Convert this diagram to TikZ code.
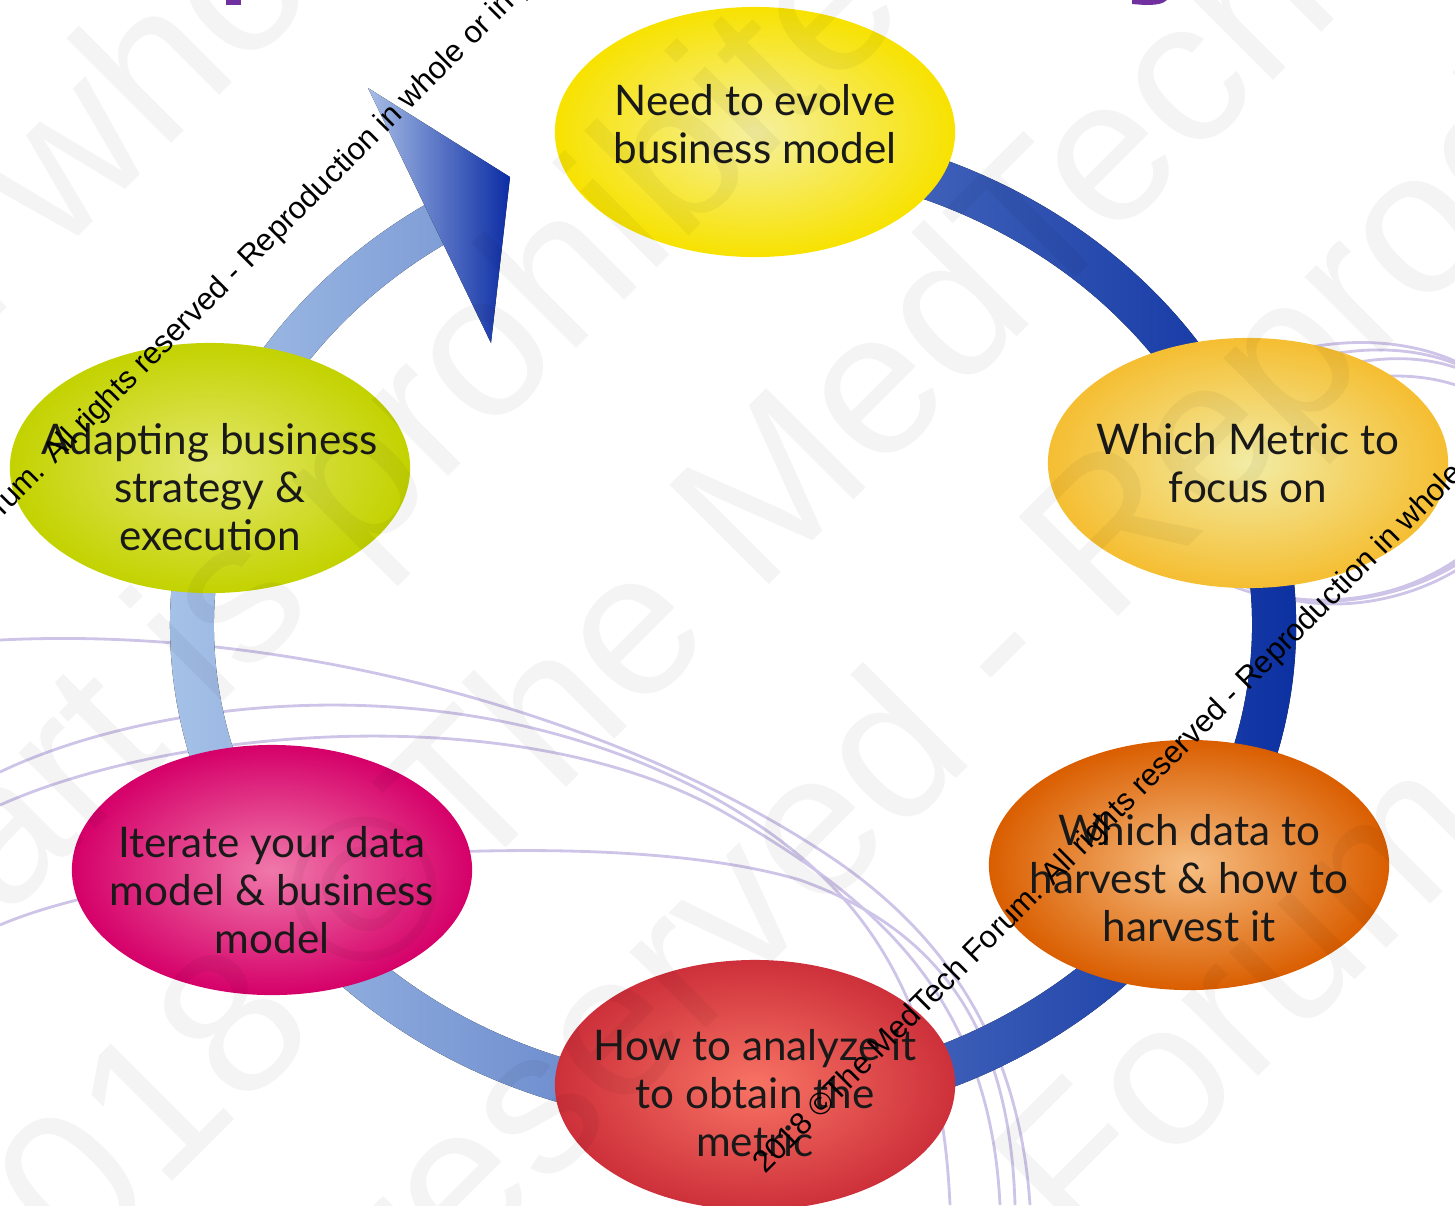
\documentclass[tikz,border=0pt]{standalone}
\usepackage{fontspec}
\setmainfont{Lato}
\newfontfamily\wmfont{Liberation Sans}
\usetikzlibrary{shapes.geometric,calc}

\definecolor{ringL}{RGB}{170,198,234}
\definecolor{ringR}{RGB}{5,42,158}
\definecolor{arrL}{RGB}{168,190,230}
\definecolor{arrR}{RGB}{12,45,165}
\definecolor{lavc}{RGB}{205,196,232}
\definecolor{titlepurple}{RGB}{112,48,160}
\definecolor{aIn}{RGB}{246,240,160}
\definecolor{aOut}{RGB}{247,226,0}
\definecolor{bIn}{RGB}{242,236,165}
\definecolor{bOut}{RGB}{245,190,50}
\definecolor{cIn}{RGB}{246,190,130}
\definecolor{cOut}{RGB}{218,94,0}
\definecolor{dIn}{RGB}{248,115,100}
\definecolor{dOut}{RGB}{205,48,58}
\definecolor{eIn}{RGB}{240,120,170}
\definecolor{eOut}{RGB}{213,0,105}
\definecolor{fIn}{RGB}{228,232,110}
\definecolor{fOut}{RGB}{195,210,0}

\newcommand{\wmtext}{2018 ©The MedTech Forum. All rights reserved - Reproduction in whole or in part is prohibited}

\begin{document}
\begin{tikzpicture}[x=0.01cm,y=-0.01cm,
  bub/.style={ellipse, minimum width=4cm, minimum height=2.5cm, inner sep=0pt},
  lbl/.style={align=center, font=\fontsize{12pt}{13.66pt}\selectfont, text=black!90, inner sep=0pt},
  wmsmall/.style={rotate=45, anchor=base west, font=\wmfont\fontsize{8.82pt}{10pt}\selectfont, inner sep=0pt, text=black},
  wmbig/.style={rotate=45, anchor=base west, font=\wmfont\fontsize{58.1pt}{60pt}\selectfont, inner sep=0pt, text=black, text opacity=0.045},
  lav/.style={draw=lavc, line width=0.8pt}
]
\useasboundingbox (0,0) rectangle (1455,1205);
\clip (0,0) rectangle (1455,1205);

% background lavender curves
\draw[lav] (1350,475) ellipse [x radius=180, y radius=122, rotate=12];
\draw[lav] (1360,480) ellipse [x radius=170, y radius=115, rotate=18];
\draw[lav] (1340,472) ellipse [x radius=190, y radius=128, rotate=8];
\draw[lav] (1365,490) ellipse [x radius=165, y radius=110, rotate=14];
\draw[lav] (0,640) .. controls (300,625) and (620,720) .. (820,850) .. controls (960,940) and (1020,1060) .. (1030,1205);
\draw[lav] (0,772) .. controls (150,700) and (450,660) .. (700,790) .. controls (850,870) and (940,980) .. (950,1205);
\draw[lav] (0,805) .. controls (180,725) and (520,700) .. (720,810) .. controls (880,900) and (990,1000) .. (1000,1205);
\draw[lav] (0,925) .. controls (150,860) and (600,820) .. (800,880) .. controls (940,930) and (1010,1030) .. (1015,1205);

% ring
\coordinate (rc) at (733,625);
\fill[left color=ringL, right color=ringR]
  ($(rc)+(258:563 and 502)$) arc[start angle=258, end angle=598, x radius=563, y radius=502]
  -- ($(rc)+(598:519 and 458)$) arc[start angle=598, end angle=258, x radius=519, y radius=458] -- cycle;

% arrowhead
\coordinate (ahA) at (368,88);
\coordinate (ahT) at (510,177);
\coordinate (ahB) at (491,343);
\fill[left color=arrL, right color=arrR] (ahA) -- (ahT) -- (ahB) -- cycle;

% ellipses
\node[bub, inner color=aIn, outer color=aOut] (e1) at (755,132) {};
\node[bub, inner color=bIn, outer color=bOut] (e2) at (1248,463) {};
\node[bub, inner color=cIn, outer color=cOut] (e3) at (1189,865) {};
\node[bub, inner color=dIn, outer color=dOut] (e4) at (755,1085) {};
\node[bub, inner color=eIn, outer color=eOut] (e5) at (272,870) {};
\node[bub, inner color=fIn, outer color=fOut] (e6) at (210,468) {};

\node[lbl] (t1) at ($(e1)+(0,-8)$) {Need to evolve\\business model};
\node[lbl] (t2) at ($(e2)+(0,0)$) {Which Metric to\\focus on};
\node[lbl] (t3) at ($(e3)+(0,13)$) {Which data to\\harvest \& how to\\harvest it};
\node[lbl] (t4) at ($(e4)+(0,8)$) {How to analyze it\\to obtain the\\metric};
\node[lbl] (t5) at ($(e5)+(0,20)$) {Iterate your data\\model \& business\\model};
\node[lbl] (t6) at ($(e6)+(0,19)$) {Adapting business\\strategy \&\\execution};

% big faint watermark
\node[wmbig] (wb1) at (-4174,4489) {\wmtext};
\node[wmbig] (wb2) at (-5045,5970) {\wmtext};
\node[wmbig] (wb3) at (0,1354) {\wmtext};
\node[wmbig] (wb4) at (-2073,3808) {\wmtext};
\node[wmbig] (wb5) at (-304,2639) {\wmtext};

% small watermark
\node[wmsmall] (wsA) at (-233,753) {\wmtext};
\node[wmsmall] (wsB) at (765,1175) {\wmtext};

% cut-off title fragments
\fill[titlepurple] (226,0) rectangle (241,5);
\fill[titlepurple] (1132,0) -- (1167,0) .. controls (1163,4) and (1156,5) .. (1145,5) -- (1132,4) -- cycle;
\end{tikzpicture}
\end{document}
